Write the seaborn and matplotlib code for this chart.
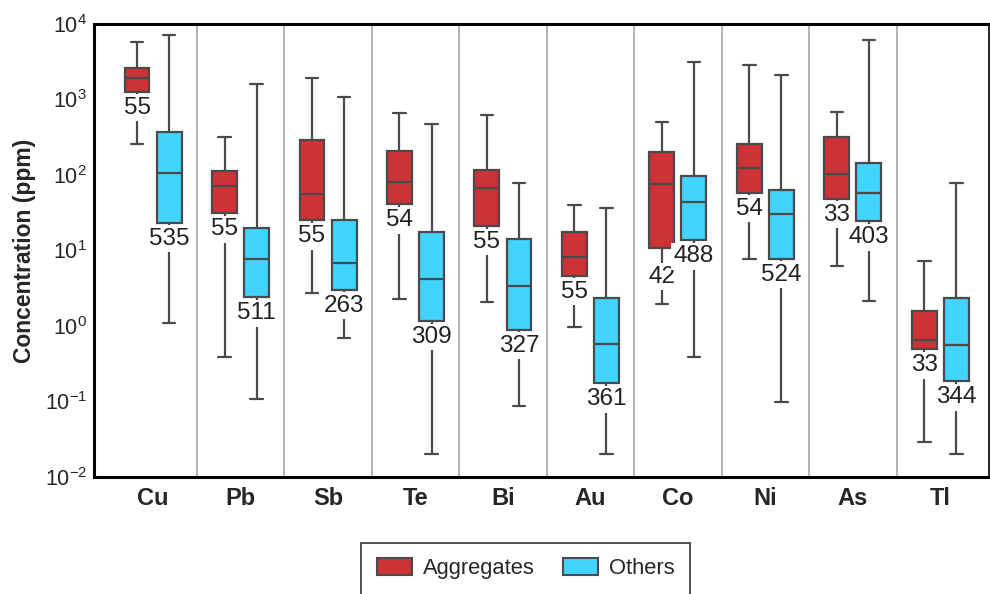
import numpy as np
import pandas as pd
import matplotlib
matplotlib.use("Agg")
import matplotlib.pyplot as plt
from matplotlib.patches import Patch
import seaborn as sns

# Element categories and sample groups
elements = ["Cu", "Pb", "Sb", "Te", "Bi", "Au", "Co", "Ni", "As", "Tl"]
groups = ["Aggregates", "Others"]

# Box statistics (ppm): whisker low, Q1, median, Q3, whisker high
agg_low = [258, 0.39, 2.7, 2.3, 2.1, 0.96, 1.95, 7.7, 6.2, 0.029]
agg_q1 = [1256, 31, 25, 41, 21, 4.6, 10.7, 58, 48, 0.49]
agg_med = [1910, 71, 56, 81, 67, 8.3, 75, 125, 102, 0.65]
agg_q3 = [2640, 114, 291, 208, 117, 17.4, 204, 258, 318, 1.57]
agg_high = [5720, 321, 1910, 656, 618, 40, 499, 2865, 676, 7.2]
agg_n = [55, 55, 55, 54, 55, 55, 42, 54, 33, 33]

oth_low = [1.09, 0.108, 0.69, 0.02, 0.088, 0.02, 0.39, 0.098, 2.14, 0.02]
oth_q1 = [23.3, 2.4, 3.03, 1.16, 0.885, 0.174, 13.6, 7.7, 24.4, 0.185]
oth_med = [106, 7.7, 6.9, 4.15, 3.42, 0.578, 44, 30.4, 58, 0.555]
oth_q3 = [368, 20, 25, 17.4, 14.1, 2.33, 97, 62.6, 144, 2.35]
oth_high = [7080, 1590, 1070, 473, 79, 37, 3170, 2090, 6190, 78]
oth_n = [535, 511, 263, 309, 327, 361, 488, 524, 403, 344]

red = "#CC3236"
blue = "#42D4FE"
edge = "#4a4a4a"

sns.set_style("white")
plt.rcParams["font.family"] = ["Liberation Sans", "DejaVu Sans"]
plt.rcParams["mathtext.default"] = "regular"

# Five-point samples whose quartiles and extremes reproduce each box exactly
rows = []
stats = {
    "Aggregates": (agg_low, agg_q1, agg_med, agg_q3, agg_high),
    "Others": (oth_low, oth_q1, oth_med, oth_q3, oth_high),
}
for g in groups:
    cols = stats[g]
    for i, el in enumerate(elements):
        for arr in cols:
            rows.append({"element": el, "group": g, "value": arr[i]})
df = pd.DataFrame(rows)

fig = plt.figure(figsize=(9.9, 5.94), dpi=100)
ax = fig.add_axes([0.095, 0.197, 0.904, 0.7626])

box_width = 0.732
sns.boxplot(
    data=df, x="element", y="value", hue="group", order=elements,
    hue_order=groups, palette=[red, blue], log_scale=True,
    whis=(0, 100), width=box_width, gap=0.22, showfliers=False,
    linecolor=edge, linewidth=1.6, saturation=1, legend=False, ax=ax,
)

# Category separators
for b in np.arange(0.5, len(elements) - 0.5, 1.0):
    ax.axvline(b, color="#a6a6a6", lw=1.2, zorder=0)

# Sample counts under each box (the Co aggregates count is pushed lower
# so it does not collide with its neighbour)
off = box_width / 4
extra_drop = {("Co", "Aggregates"): 9.0}
for i, el in enumerate(elements):
    for g, dx, q1, n in (("Aggregates", -off, agg_q1[i], agg_n[i]),
                         ("Others", off, oth_q1[i], oth_n[i])):
        dy = -3.5 - extra_drop.get((el, g), 0.0)
        ax.annotate(
            str(n), xy=(i + dx, q1), xytext=(0, dy), textcoords="offset points",
            ha="center", va="top", fontsize=17.5, color="#222222", zorder=5,
            bbox=dict(boxstyle="square,pad=0.1", fc="white", ec="none"),
        )

ax.set_ylim(1e-2, 1e4)
ax.set_xlim(-0.674, 9.555)
ax.set_xlabel("")
ax.set_ylabel("Concentration (ppm)", fontsize=16.5, fontweight="bold", labelpad=6)
ax.set_xticks(range(len(elements)))
ax.set_xticklabels(elements, fontsize=17, fontweight="bold")
ax.tick_params(axis="x", length=0, pad=7)
ax.tick_params(axis="y", which="major", direction="in", length=6, width=1.2,
               labelsize=15.5, pad=5, color="#333333")
ax.tick_params(axis="y", which="minor", direction="in", length=3.5, width=1.0,
               color="#333333")

for side in ("left", "top", "bottom"):
    ax.spines[side].set_visible(True)
    ax.spines[side].set_linewidth(2.2)
    ax.spines[side].set_color("black")
ax.spines["right"].set_linewidth(1.2)
ax.spines["right"].set_color("black")

handles = [Patch(facecolor=red, edgecolor=edge, linewidth=1.5, label="Aggregates"),
           Patch(facecolor=blue, edgecolor=edge, linewidth=1.5, label="Others")]
leg = fig.legend(
    handles=handles, loc="upper center", bbox_to_anchor=(0.531, 1 - 543 / 594),
    ncol=2, fontsize=15.8, frameon=True, fancybox=False, edgecolor="black",
    handlelength=1.6, handleheight=0.8, columnspacing=1.3, handletextpad=0.5,
    borderpad=0.7, borderaxespad=0,
)
leg.get_frame().set_linewidth(1.2)

fig.savefig("out.png", dpi=100)
